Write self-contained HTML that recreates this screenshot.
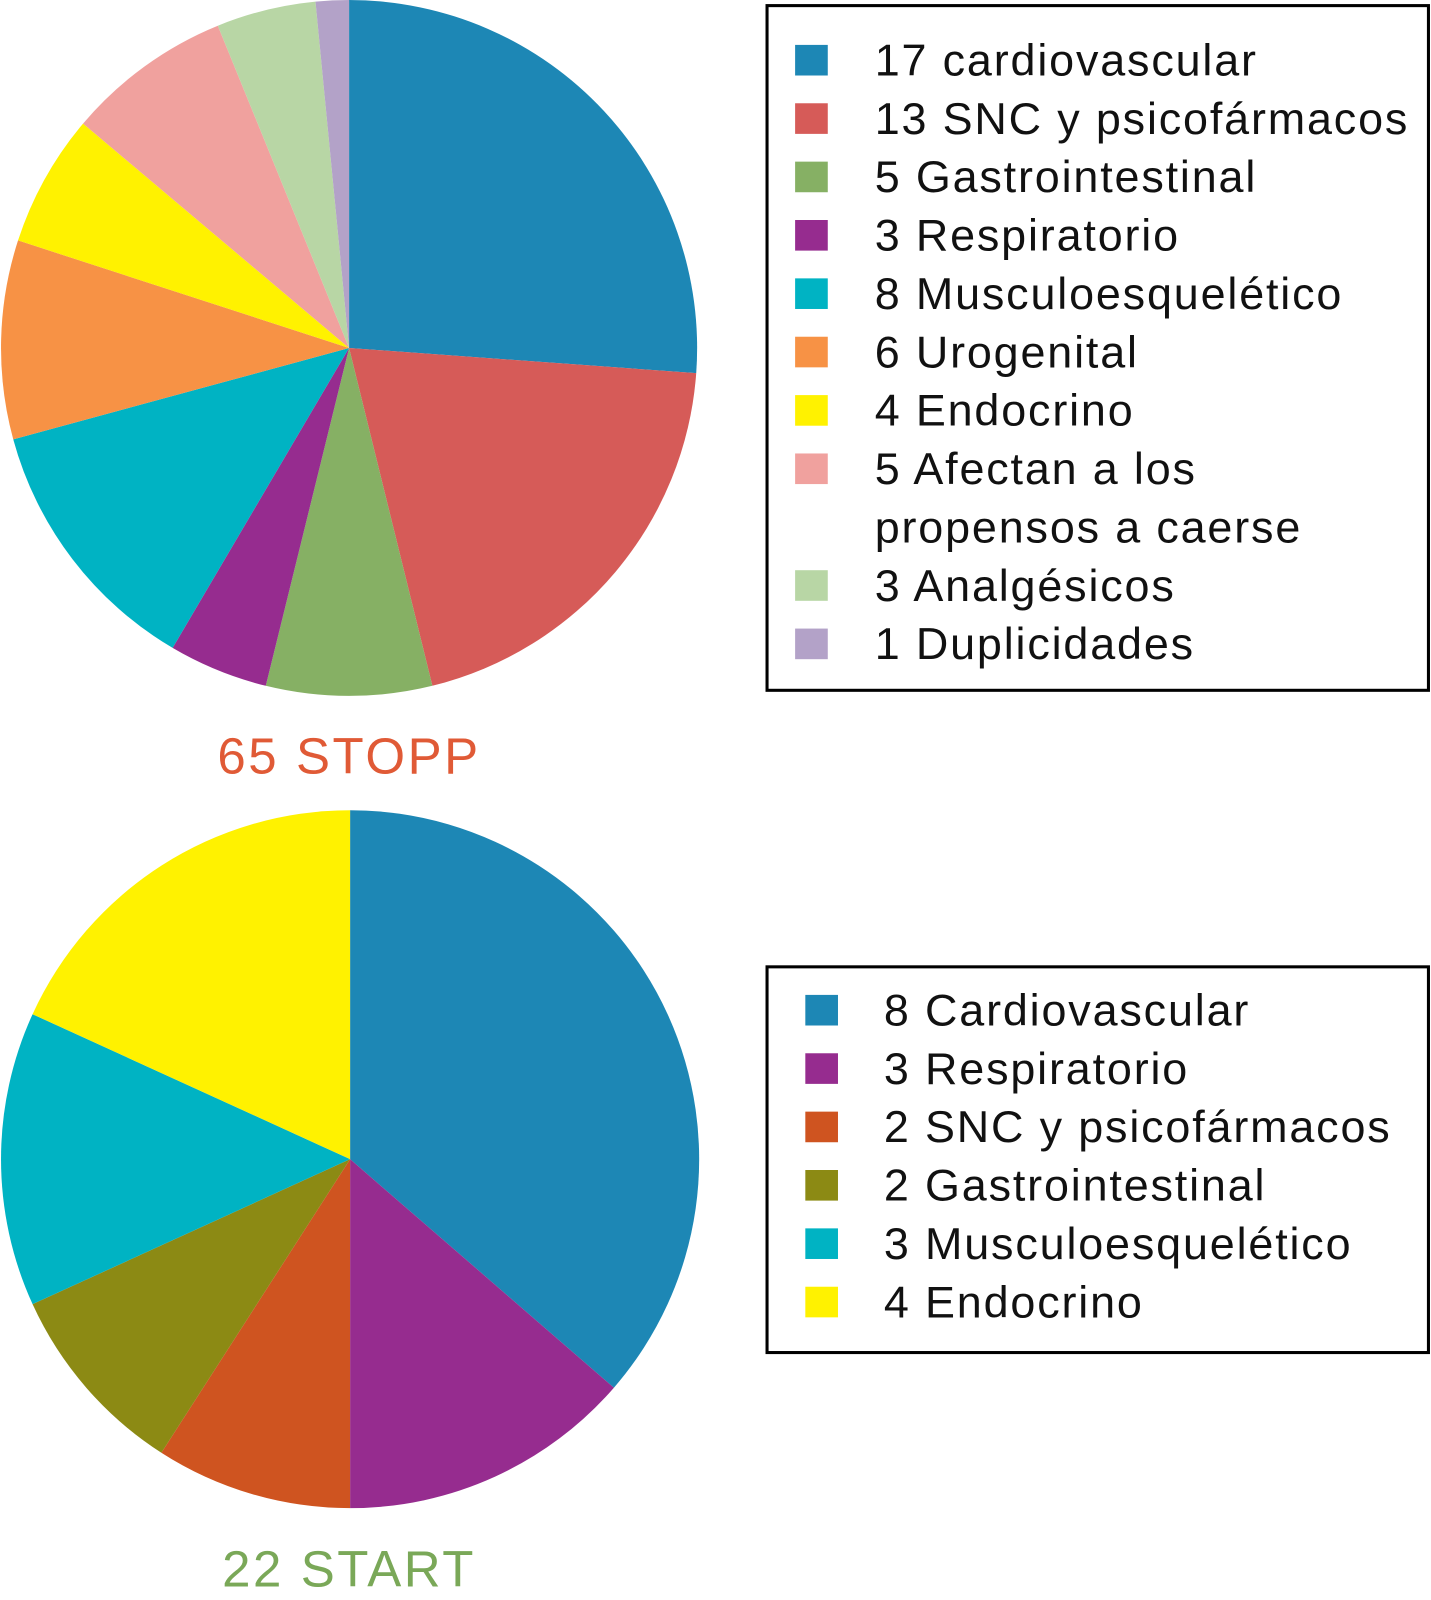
<!DOCTYPE html>
<html><head><meta charset="utf-8"><style>
html,body{margin:0;padding:0;background:#fff;width:1431px;height:1600px;overflow:hidden}
svg{display:block}
text{font-family:"Liberation Sans",sans-serif}
</style></head><body>
<svg id="chart" width="1431" height="1600" viewBox="0 0 1402 1568" preserveAspectRatio="none" xmlns="http://www.w3.org/2000/svg">
<rect x="0" y="0" width="1402" height="1568" fill="#fff"/>
<g id="pie1"></g>
<g id="pie2"></g>
<rect x="751.5" y="5.5" width="648" height="671" fill="none" stroke="#000" stroke-width="3"/>
<rect x="751.5" y="947.5" width="648" height="378" fill="none" stroke="#000" stroke-width="3"/>
<g id="leg1"></g>
<g id="leg2"></g>
<text x="342" y="758" text-anchor="middle" font-size="50" letter-spacing="2.5" fill="#e05a36">65 STOPP</text>
<text x="342" y="1555" text-anchor="middle" font-size="50" letter-spacing="2.5" fill="#7aa858">22 START</text>
</svg>
<script>
const stoppLabels = ["cardiovascular","SNC y psicofármacos","Gastrointestinal","Respiratorio","Musculoesquelético","Urogenital","Endocrino","Afectan a los|propensos a caerse","Analgésicos","Duplicidades"];
const stoppValues = [17,13,5,3,8,6,4,5,3,1];
const stoppColors = ["#1d87b5","#d65b58","#86b064","#962c8f","#00b3c3","#f79245","#fff200","#f0a19e","#b8d6a5","#b3a2c8"];
const startLabels = ["Cardiovascular","Respiratorio","SNC y psicofármacos","Gastrointestinal","Musculoesquelético","Endocrino"];
const startValues = [8,3,2,2,3,4];
const startColors = ["#1d87b5","#962c8f","#cf5420","#8c8a14","#00b3c3","#fff200"];
const NS="http://www.w3.org/2000/svg";
function drawPie(g,vals,cols,cx,cy,r,prefix){
  const tot=vals.reduce((a,b)=>a+b,0);let a0=0;
  vals.forEach((v,i)=>{
    const a1=a0+v/tot*2*Math.PI;
    const x0=cx+r*Math.sin(a0),y0=cy-r*Math.cos(a0),x1=cx+r*Math.sin(a1),y1=cy-r*Math.cos(a1);
    const p=document.createElementNS(NS,"path");
    p.setAttribute("d",`M${cx},${cy}L${x0},${y0}A${r},${r} 0 ${a1-a0>Math.PI?1:0} 1 ${x1},${y1}Z`);
    p.setAttribute("fill",cols[i]);
    
    
    g.appendChild(p);a0=a1;
  });
}
function drawLegend(g,labels,vals,cols,sx,tx,y0,prefix){
  let row=0;
  labels.forEach((l,i)=>{
    const cy=y0+row*57.2;
    const s=document.createElementNS(NS,"rect");
    s.setAttribute("x",sx);s.setAttribute("y",cy-15);s.setAttribute("width",32);s.setAttribute("height",30);s.setAttribute("fill",cols[i]);
    
    
    g.appendChild(s);
    const parts=(vals[i]+" "+l).split("|");
    parts.forEach((t,k)=>{
      const tt=document.createElementNS(NS,"text");
      tt.setAttribute("x",tx);tt.setAttribute("y",y0+(row+k)*57.2+15);tt.setAttribute("font-size","44");tt.setAttribute("letter-spacing","1.8");tt.setAttribute("fill","#111");
      tt.textContent=t;
      
      
      g.appendChild(tt);
    });
    row+=parts.length;
  });
}
drawPie(document.getElementById("pie1"),stoppValues,stoppColors,342,341,341,"stopp");
drawPie(document.getElementById("pie2"),startValues,startColors,343,1136,342,"start");
drawLegend(document.getElementById("leg1"),stoppLabels,stoppValues,stoppColors,779,857,59,"stopp-legend");
drawLegend(document.getElementById("leg2"),startLabels,startValues,startColors,789,866,990,"start-legend");
</script>
</body></html>
